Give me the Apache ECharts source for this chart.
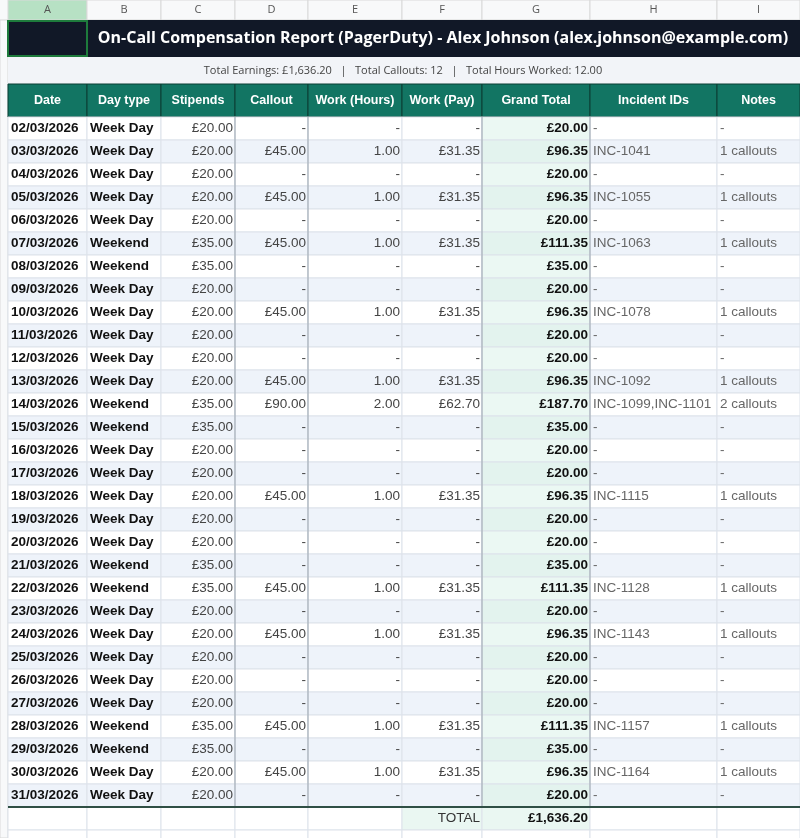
<!DOCTYPE html>
<html><head><meta charset="utf-8">
<script src="https://cdn.jsdelivr.net/npm/echarts@6/dist/echarts.min.js"></script>
<style>html,body{margin:0;padding:0;background:#fff}#c{width:800px;height:838px}</style>
</head><body><div id="c"></div>
<script>
const title = "On-Call Compensation Report (PagerDuty) - Alex Johnson (alex.johnson@example.com)";
const summary = "Total Earnings: £1,636.20   |   Total Callouts: 12   |   Total Hours Worked: 12.00";
const colLetters = ["A","B","C","D","E","F","G","H","I"];
const headers = ["Date","Day type","Stipends","Callout","Work (Hours)","Work (Pay)","Grand Total","Incident IDs","Notes"];
const dates = ["02/03/2026","03/03/2026","04/03/2026","05/03/2026","06/03/2026","07/03/2026","08/03/2026","09/03/2026","10/03/2026","11/03/2026","12/03/2026","13/03/2026","14/03/2026","15/03/2026","16/03/2026","17/03/2026","18/03/2026","19/03/2026","20/03/2026","21/03/2026","22/03/2026","23/03/2026","24/03/2026","25/03/2026","26/03/2026","27/03/2026","28/03/2026","29/03/2026","30/03/2026","31/03/2026"];
const dayTypes = ["Week Day","Week Day","Week Day","Week Day","Week Day","Weekend","Weekend","Week Day","Week Day","Week Day","Week Day","Week Day","Weekend","Weekend","Week Day","Week Day","Week Day","Week Day","Week Day","Weekend","Weekend","Week Day","Week Day","Week Day","Week Day","Week Day","Weekend","Weekend","Week Day","Week Day"];
const stipends = [20,20,20,20,20,35,35,20,20,20,20,20,35,35,20,20,20,20,20,35,35,20,20,20,20,20,35,35,20,20];
const callouts = [null,45,null,45,null,45,null,null,45,null,null,45,90,null,null,null,45,null,null,null,45,null,45,null,null,null,45,null,45,null];
const workHours = [null,1,null,1,null,1,null,null,1,null,null,1,2,null,null,null,1,null,null,null,1,null,1,null,null,null,1,null,1,null];
const workPay = [null,31.35,null,31.35,null,31.35,null,null,31.35,null,null,31.35,62.70,null,null,null,31.35,null,null,null,31.35,null,31.35,null,null,null,31.35,null,31.35,null];
const grandTotals = [20,96.35,20,96.35,20,111.35,35,20,96.35,20,20,96.35,187.70,35,20,20,96.35,20,20,35,111.35,20,96.35,20,20,20,111.35,35,96.35,20];
const incidents = [null,"INC-1041",null,"INC-1055",null,"INC-1063",null,null,"INC-1078",null,null,"INC-1092","INC-1099,INC-1101",null,null,null,"INC-1115",null,null,null,"INC-1128",null,"INC-1143",null,null,null,"INC-1157",null,"INC-1164",null];
const notes = [null,"1 callouts",null,"1 callouts",null,"1 callouts",null,null,"1 callouts",null,null,"1 callouts","2 callouts",null,null,null,"1 callouts",null,null,null,"1 callouts",null,"1 callouts",null,null,null,"1 callouts",null,"1 callouts",null];
const totalLabel = "TOTAL";
const totalValue = "£1,636.20";

// layout
const colEdges = [8,87,161,235,308,402,482,590,717,800];
const FONT = "'Liberation Sans Narrow', 'Liberation Sans', sans-serif";
const money = v => v==null ? "-" : "£" + v.toFixed(2).replace(/\B(?=(\d{3})+(?!\d))/g, ",");
const num = v => v==null ? "-" : v.toFixed(2);
const cells = [];
function cell(x0,y0,x1,y1,o){cells.push([x0,y0,x1,y1,cells.length]); cells[cells.length-1].o=o;}
// column letter header
cell(0,0,800,20,{fill:'#f8f9fa'});
for(let i=0;i<9;i++) cell(colEdges[i],0,colEdges[i+1],20,{fill:i===0?'#b7e1c4':'#f8f9fa',stroke:'#d9d9d9',text:colLetters[i],color:'#555',size:11,align:'center',font:"'Open Sans', sans-serif"});
cell(0,20,8,838,{fill:'#f8f9fa',stroke:'#d9d9d9'});
// title
cell(8,20,800,57,{fill:'#111827'});
cell(87,20,800,57,{text:title,color:'#fff',size:16,bold:true,align:'center',font:"'Open Sans', sans-serif",cx:443});
cell(8,21,87,56,{fill:'#111827',stroke:'#1e7b3c',lw:2});
// summary
cell(8,57,800,84,{fill:'#f2f4f8',text:summary,color:'#444',size:11,align:'center',font:"'Open Sans', sans-serif",cx:403});
// headers
for(let i=0;i<9;i++) cell(colEdges[i],84,colEdges[i+1],117,{fill:'#127563',stroke:'#0b3f35',text:headers[i],color:'#fff',size:12.5,bold:true,align:'center'});
// data rows
const RH=23, top0=117;
for(let r=0;r<dates.length;r++){
  const y0=top0+r*RH, y1=y0+RH, bg=r%2?'#eef3fa':'#ffffff';
  const vals=[dates[r],dayTypes[r],money(stipends[r]),money(callouts[r]),num(workHours[r]),money(workPay[r]),money(grandTotals[r]),incidents[r]||"-",notes[r]||"-"];
  for(let c=0;c<9;c++){
    const o={fill:c===6?(r%2?'#e3f3ee':'#ebf8f3'):bg,stroke:'#dde2ea',text:vals[c],size:13.5,font:FONT};
    if(c<2){o.color='#111';o.bold=true;o.align='left';}
    else if(c<7){o.color='#444';o.align='right';}
    else {o.color='#666';o.align='left';}
    if(c===6){o.color='#111';o.bold=true;}
    cell(colEdges[c],y0,colEdges[c+1],y1,o);
  }
}
// thicker vertical separators
[235,308,482,590].forEach(x=>cell(x-0.5,117,x+0.5,806,{fill:'#9aa3ae'}));
// total row
const ty=top0+dates.length*RH;
for(let c=0;c<9;c++){
  const o={fill:(c===5||c===6)?'#eaf7f2':'#fff',stroke:'#dde2ea',size:13.5,font:FONT};
  if(c===5){o.text=totalLabel;o.align='right';o.color='#333';}
  if(c===6){o.text=totalValue;o.align='right';o.color='#111';o.bold=true;}
  cell(colEdges[c],ty,colEdges[c+1],ty+RH,o);
}
cell(8,ty-1,800,ty+1,{fill:'#2f4f45'});
for(let c=0;c<9;c++) cell(colEdges[c],ty+RH,colEdges[c+1],ty+RH+20,{fill:'#fff',stroke:'#dde2ea'});

const chart=echarts.init(document.getElementById('c'));
chart.setOption({
  animation:false,
  grid:{left:0,top:0,width:800,height:838},
  xAxis:{type:'value',min:0,max:800,show:false},
  yAxis:{type:'value',min:0,max:838,inverse:true,show:false},
  series:[{type:'custom',coordinateSystem:'cartesian2d',clip:true,
    data:cells.map(c=>c.slice(0,5)),
    renderItem:(params,api)=>{
      const idx=api.value(4), o=cells[idx].o;
      const p0=api.coord([api.value(0),api.value(1)]), p1=api.coord([api.value(2),api.value(3)]);
      const w=p1[0]-p0[0], h=p1[1]-p0[1];
      const ch=[{type:'rect',shape:{x:p0[0],y:p0[1],width:w,height:h},style:{fill:o.fill||'none',stroke:o.stroke||null,lineWidth:o.lw||1}}];
      if(o.text){
        let x=o.align==='left'?p0[0]+3:o.align==='right'?p1[0]-2:p0[0]+w/2;
        if(o.cx!=null) x=api.coord([o.cx,0])[0];
        ch.push({type:'text',style:{x:x,y:p0[1]+h/2,text:o.text,fill:o.color,align:o.align,verticalAlign:'middle',
          font:(o.bold?'bold ':'')+o.size+'px '+(o.font||FONT)}});
      }
      return {type:'group',children:ch};
    }}]
});
</script></body></html>
